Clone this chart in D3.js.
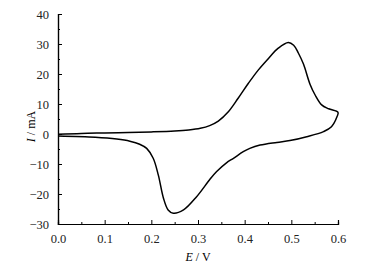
<!DOCTYPE html>
<html>
<head>
<meta charset="utf-8">
<script src="https://cdn.jsdelivr.net/npm/d3@7"></script>
<style>
  body { margin: 0; background: #fff; }
  text { font-family: "Liberation Serif", "DejaVu Serif", serif; }
</style>
</head>
<body>
<div id="chart"></div>
<script>
// Cyclic voltammogram
var forwardE = [0.0, 0.05, 0.1, 0.15, 0.2, 0.25, 0.28, 0.305, 0.325, 0.3435, 0.365, 0.386, 0.408, 0.429, 0.451, 0.472, 0.4935, 0.505, 0.515, 0.526, 0.54, 0.551, 0.565, 0.58, 0.6]
var forwardI = [-0.1, 0.2, 0.35, 0.5, 0.7, 1.0, 1.35, 1.9, 2.8, 4.3, 7.4, 11.9, 16.9, 21.3, 25.2, 28.6, 30.5, 29.6, 27.0, 23.3, 16.6, 13.0, 9.7, 8.4, 7.2]
var reverseE = [0.598, 0.586, 0.569, 0.533, 0.497, 0.469, 0.433, 0.411, 0.397, 0.376, 0.361, 0.34, 0.326, 0.297, 0.269, 0.247, 0.236, 0.226, 0.215, 0.204, 0.19, 0.175, 0.154, 0.126, 0.08, 0.0]
var reverseI = [5.8, 2.4, 0.8, -0.9, -2.2, -2.8, -3.7, -4.8, -5.9, -8.1, -9.6, -12.5, -15.0, -20.9, -25.3, -26.4, -25.3, -21.4, -13.7, -8.1, -4.8, -3.4, -2.4, -1.7, -1.1, -0.7]

var xTicks = [0.0, 0.1, 0.2, 0.3, 0.4, 0.5, 0.6]
var yTicks = [-30, -20, -10, 0, 10, 20, 30, 40]

var margin = {top: 14, right: 42, bottom: 39, left: 58},
    width = 380 - margin.left - margin.right,
    height = 263 - margin.top - margin.bottom;

var svg = d3.select("#chart")
    .append("svg")
        .attr("width", 380)
        .attr("height", 263)
    .append("g")
        .attr("transform", "translate(" + margin.left + "," + margin.top + ")");

var x = d3.scaleLinear().domain([0, 0.6]).range([0, width])
var y = d3.scaleLinear().domain([-30, 40]).range([height, 0])

// minor ticks first, then major ticks with labels
svg.append("g")
    .attr("transform", "translate(0," + height + ")")
    .call(d3.axisBottom(x).tickValues(d3.range(0.05, 0.6, 0.1)).tickSize(-2).tickFormat(""))
svg.append("g")
    .attr("class", "xaxis")
    .attr("transform", "translate(0," + height + ")")
    .call(d3.axisBottom(x).tickValues(xTicks).tickSize(-4).tickPadding(10).tickFormat(d3.format(".1f")))

svg.append("g")
    .call(d3.axisLeft(y).tickValues(d3.range(-25, 40, 10)).tickSize(-2).tickFormat(""))
svg.append("g")
    .attr("class", "yaxis")
    .call(d3.axisLeft(y).tickValues(yTicks).tickSize(-4).tickPadding(9).tickFormat(function(d) { return d < 0 ? "\u2212" + Math.abs(d) : d; }))

svg.selectAll(".domain").attr("stroke", "#000").attr("stroke-width", 1.2)
svg.selectAll(".tick line").attr("stroke", "#000")
svg.selectAll(".tick text")
    .style("font-family", "'Liberation Serif', serif")
    .style("font-size", "12.5px")
    .attr("fill", "#222")

// axis titles
var xl = svg.append("text")
    .attr("x", width / 2)
    .attr("y", height + 37)
    .attr("text-anchor", "middle")
    .style("font-size", "12px")
xl.append("tspan").style("font-style", "italic").text("E")
xl.append("tspan").text(" / V")

var yl = svg.append("text")
    .attr("transform", "translate(-23," + (y(2.5)) + ") rotate(-90)")
    .attr("text-anchor", "middle")
    .style("font-size", "12px")
yl.append("tspan").style("font-style", "italic").text("I")
yl.append("tspan").text(" / mA")

// curve: forward scan then the return scan
var pts = forwardE.map(function(e, i) { return [e, forwardI[i]]; })
    .concat(reverseE.map(function(e, i) { return [e, reverseI[i]]; }))

svg.append("path")
    .datum(pts)
    .attr("d", d3.line()
        .x(function(d) { return x(d[0]); })
        .y(function(d) { return y(d[1]); })
        .curve(d3.curveCatmullRom.alpha(0.5)))
    .style("fill", "none")
    .style("stroke", "#000")
    .style("stroke-width", 1.5)
</script>
</body>
</html>
